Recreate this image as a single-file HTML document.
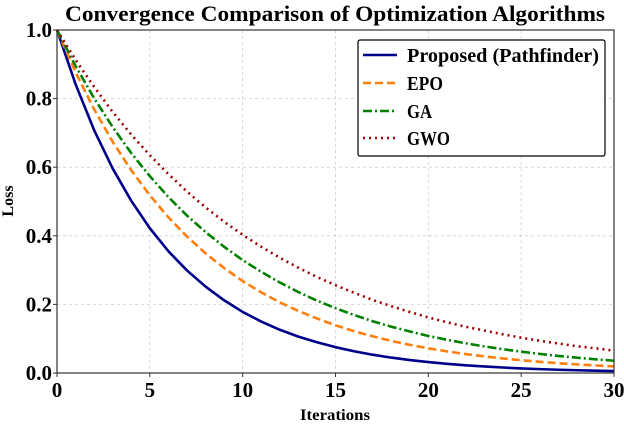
<!DOCTYPE html>
<html><head><meta charset="utf-8"><style>
html,body{margin:0;padding:0;background:#fff;width:624px;height:424px;overflow:hidden}
svg text{font-family:"Liberation Serif","DejaVu Serif",serif;font-weight:bold;fill:#000}
</style></head><body>
<svg id="chart" width="624" height="424" xmlns="http://www.w3.org/2000/svg"></svg>
<script>
const iterations = [0,1,2,3,4,5,6,7,8,9,10,11,12,13,14,15,16,17,18,19,20,21,22,23,24,25,26,27,28,29,30];
const proposedLoss = [1,.842,.708,.596,.502,.422,.355,.299,.252,.212,.178,.150,.126,.106,.0895,.0753,.0634,.0533,.0449,.0378,.0318,.0268,.0225,.0190,.0160,.0134,.0113,.0095,.0080,.0067,.0057];
const epoLoss = [1,.877,.769,.674,.591,.518,.454,.398,.349,.306,.268,.235,.206,.181,.159,.139,.122,.107,.0936,.0821,.0720,.0631,.0553,.0485,.0425,.0373,.0327,.0286,.0251,.0220,.0193];
const gaLoss = [1,.895,.801,.717,.641,.574,.513,.459,.411,.368,.329,.295,.264,.236,.211,.189,.169,.151,.135,.121,.108,.0970,.0868,.0777,.0695,.0622,.0556,.0498,.0446,.0399,.0357];
const gwoLoss = [1,.913,.834,.761,.695,.635,.580,.529,.483,.441,.403,.368,.336,.307,.280,.256,.234,.213,.195,.178,.162,.148,.135,.124,.113,.103,.094,.086,.078,.072,.065];
const xTicks = [0,5,10,15,20,25,30];
const yTicks = [0,0.2,0.4,0.6,0.8,1.0];
const yTickLabels = ["0.0","0.2","0.4","0.6","0.8","1.0"];
const seriesNames = ["Proposed (Pathfinder)","EPO","GA","GWO"];

const svg = document.getElementById('chart');
const NS = 'http://www.w3.org/2000/svg';
const L=57,R=614,T=30,B=373;
const xs = v => L + (v-0)/(30-0)*(R-L);
const ys = v => B - (v-0)/(1-0)*(B-T);
function mk(tag, attrs, parent){const e=document.createElementNS(NS,tag);for(const k in attrs)e.setAttribute(k,attrs[k]);(parent||svg).appendChild(e);return e;}

xTicks.forEach(t=>{
  const g=mk('line',{x1:xs(t),x2:xs(t),y1:T,y2:B,stroke:'#cfcfcf','stroke-width':0.8,'stroke-dasharray':'3,3'});
  
  
});
yTicks.forEach(t=>{
  const g=mk('line',{x1:L,x2:R,y1:ys(t),y2:ys(t),stroke:'#cfcfcf','stroke-width':0.8,'stroke-dasharray':'3,3'});
  
  
});

const styles = [
  {c:'#00008b',d:'',w:2.6,n:'series-proposed'},
  {c:'#ff7f0e',d:'8,4',w:2.6,n:'series-epo'},
  {c:'#008000',d:'9,3,2,3',w:2.6,n:'series-ga'},
  {c:'#a00000',d:'2,4',w:2.6,n:'series-gwo'}
];
const allSeries=[proposedLoss,epoLoss,gaLoss,gwoLoss];
allSeries.forEach((s,i)=>{
  const pts=s.map((v,j)=>xs(iterations[j]).toFixed(2)+','+ys(v).toFixed(2)).join(' ');
  const p=mk('polyline',{points:pts,fill:'none',stroke:styles[i].c,'stroke-width':styles[i].w,'stroke-dasharray':styles[i].d,'stroke-linejoin':'round'});
  
  
});

const fr=mk('rect',{x:L,y:T,width:R-L,height:B-T,fill:'none',stroke:'#333','stroke-width':1.2});



xTicks.forEach(t=>{
  mk('line',{x1:xs(t),x2:xs(t),y1:B,y2:B+4,stroke:'#333'});
  const tx=mk('text',{x:xs(t),y:B+24,'text-anchor':'middle','font-size':21});
  tx.textContent=t;
  
  
});
yTicks.forEach((t,i)=>{
  mk('line',{x1:L-4,x2:L,y1:ys(t),y2:ys(t),stroke:'#333'});
  const tx=mk('text',{x:L-5,y:ys(t)+7,'text-anchor':'end','font-size':21});
  tx.textContent=yTickLabels[i];
  
  
});

const title=mk('text',{x:65,y:21,'font-size':22,textLength:540,lengthAdjust:'spacingAndGlyphs'});
title.textContent='Convergence Comparison of Optimization Algorithms';


const xl=mk('text',{x:300,y:420,'font-size':16,textLength:70,lengthAdjust:'spacingAndGlyphs'});
xl.textContent='Iterations';


const yl=mk('text',{x:0,y:0,'text-anchor':'middle','font-size':16,transform:'translate(13,201) rotate(-90)'});
yl.textContent='Loss';



const lg=mk('g',{});


mk('rect',{x:358,y:40,width:247,height:116,fill:'#fff',stroke:'#000','stroke-width':1.2,rx:2},lg);
const ly=[55,83,111,138];
const lw=[192,36,25,43];
seriesNames.forEach((n,i)=>{
  const e=mk('g',{},lg);
  
  
  mk('line',{x1:363,x2:397,y1:ly[i],y2:ly[i],stroke:styles[i].c,'stroke-width':2.6,'stroke-dasharray':styles[i].d},e);
  const t=mk('text',{x:407,y:ly[i]+7,'font-size':20,textLength:lw[i],lengthAdjust:'spacingAndGlyphs'},e);
  t.textContent=n;
});
</script>
</body></html>
